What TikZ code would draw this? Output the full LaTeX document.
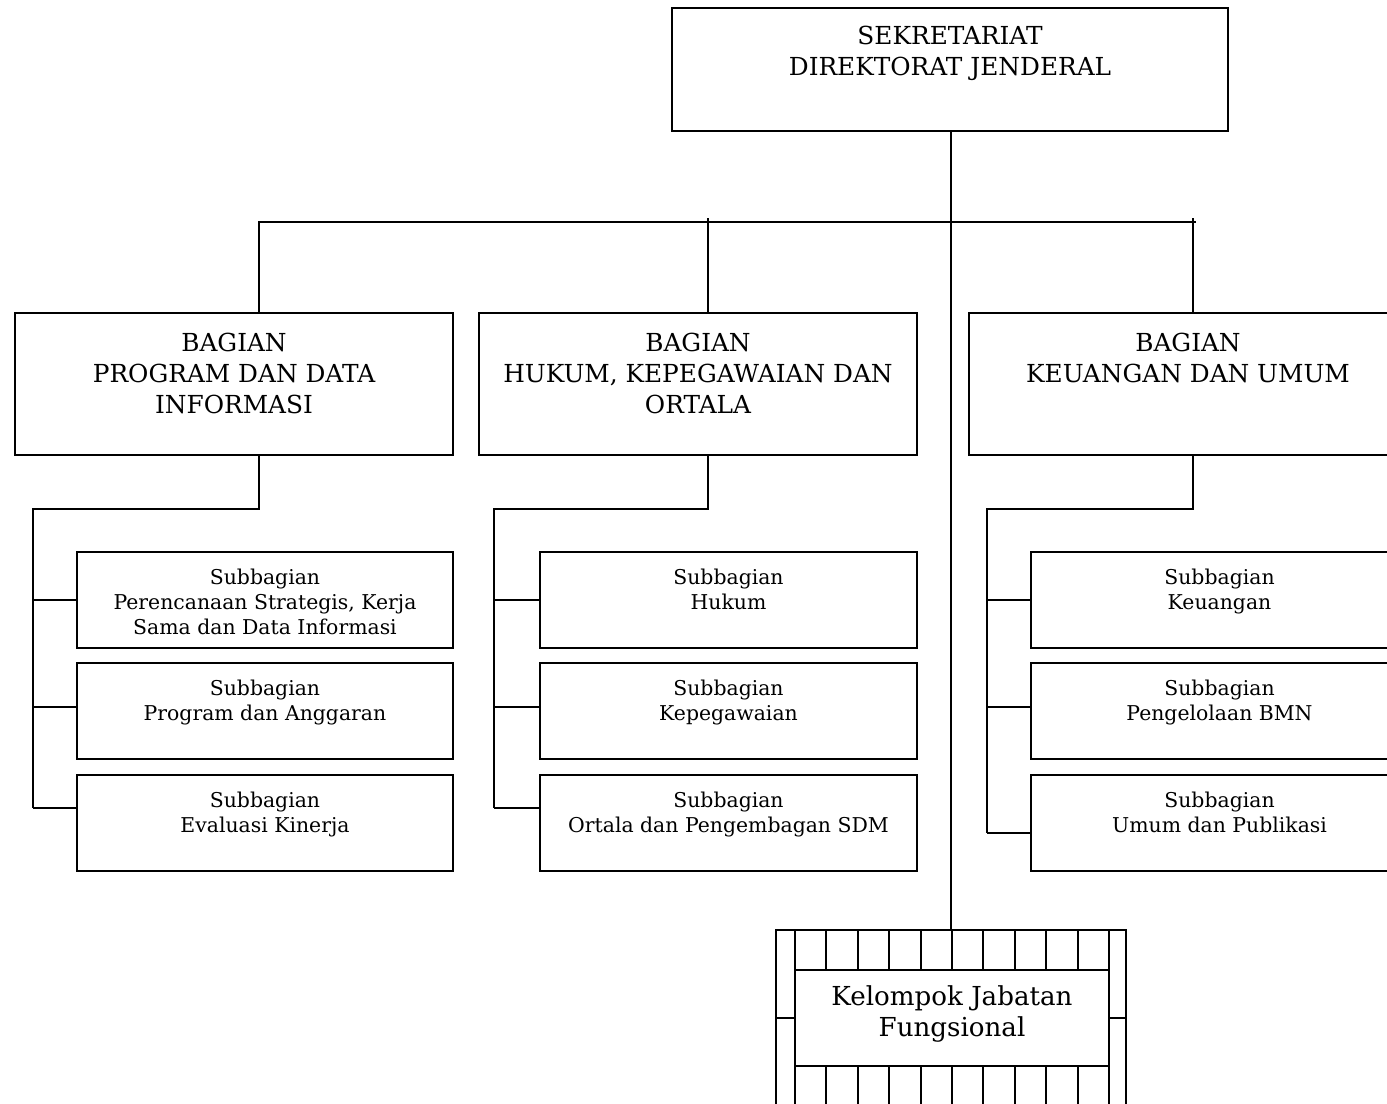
\documentclass[tikz,border=0pt]{standalone}
\usepackage{fontspec}
\setmainfont{DejaVu Serif}
\usetikzlibrary{calc}
% one drawing unit of the chart
\newdimen\px \px=0.75pt
% box content: fixed-size parbox, text hanging from the top
\newcommand{\boxtext}[4]{\parbox[c][#2\px][t]{#1\px}{\vspace*{#3\px}\centering #4\par}}
\newcommand{\bigfont}{\fontsize{18.6pt}{23.25pt}\selectfont}
\newcommand{\groupfont}{\fontsize{19.6pt}{23.25pt}\selectfont}
\newcommand{\smallfont}{\fontsize{15.3pt}{18.75pt}\selectfont}
\tikzset{
  unit/.style={draw, line width=1.5pt, inner sep=0pt, outer sep=0pt},
  link/.style={line width=1.5pt},
}
\begin{document}
\begin{tikzpicture}[x=0.75pt, y=-0.75pt]
\useasboundingbox (0,0) rectangle (1387,1103);
\clip (0,0) rectangle (1387,1103);

% head office
\node[unit] (sek) at (950,69.5) {\boxtext{556}{123}{18}{\bigfont SEKRETARIAT\\DIREKTORAT JENDERAL}};

% divisions
\node[unit] (bag1) at (234,384) {\boxtext{438}{142}{20}{\bigfont BAGIAN\\PROGRAM DAN DATA\\INFORMASI}};
\node[unit] (bag2) at (698,384) {\boxtext{438}{142}{20}{\bigfont BAGIAN\\HUKUM, KEPEGAWAIAN DAN\\ORTALA}};
\node[unit] (bag3) at (1188,384) {\boxtext{438}{142}{20}{\bigfont BAGIAN\\KEUANGAN DAN UMUM}};

% sub-divisions
\node[unit] (s11) at (265,600) {\boxtext{376}{96}{17}{\smallfont Subbagian\\Perencanaan Strategis, Kerja\\Sama dan Data Informasi}};
\node[unit] (s12) at (265,711) {\boxtext{376}{96}{17}{\smallfont Subbagian\\Program dan Anggaran}};
\node[unit] (s13) at (265,823) {\boxtext{376}{96}{17}{\smallfont Subbagian\\Evaluasi Kinerja}};

\node[unit] (s21) at (728.5,600) {\boxtext{377}{96}{17}{\smallfont Subbagian\\Hukum}};
\node[unit] (s22) at (728.5,711) {\boxtext{377}{96}{17}{\smallfont Subbagian\\Kepegawaian}};
\node[unit] (s23) at (728.5,823) {\boxtext{377}{96}{17}{\smallfont Subbagian\\Ortala dan Pengembagan SDM}};

\node[unit] (s31) at (1219.5,600) {\boxtext{377}{96}{17}{\smallfont Subbagian\\Keuangan}};
\node[unit] (s32) at (1219.5,711) {\boxtext{377}{96}{17}{\smallfont Subbagian\\Pengelolaan BMN}};
\node[unit] (s33) at (1219.5,823) {\boxtext{377}{96}{17}{\smallfont Subbagian\\Umum dan Publikasi}};

% functional group: framed box with a hatched border band
\node[unit, minimum width=350\px, minimum height=176\px] (kout) at (951,1018) {};
\node[unit] (kin) at (952,1018) {\boxtext{314}{96}{16}{\groupfont Kelompok Jabatan\\Fungsional}};
\foreach \i in {0,...,10} {
  \path ($(kin.north west)!\i/10!(kin.north east)$) coordinate (gt\i)
        ($(kin.south west)!\i/10!(kin.south east)$) coordinate (gb\i);
  \draw[link] (gt\i) -- (gt\i |- kout.north);
  \draw[link] (gb\i) -- (gb\i |- kout.south);
}
\draw[link] (kin.west) -- (kin.west -| kout.west);
\draw[link] (kin.east) -- (kin.east -| kout.east);

% main trunk and distribution bar
\draw[link] (kout.north |- sek.south) -- (kout.north);
\coordinate (j1) at (259,221);
\coordinate (j2) at (708,218);
\coordinate (j3) at (1193,218);
\coordinate (barL) at (259,222);
\coordinate (barR) at (1196,222);
\draw[link] (barL) -- (barR);
\draw[link] (j1) -- (j1 |- bag1.north);
\draw[link] (j2) -- (j2 |- bag2.north);
\draw[link] (j3) -- (j3 |- bag3.north);

% division to sub-division connectors
\coordinate (e1) at (33,509);
\coordinate (e2) at (494,509);
\coordinate (e3) at (987,509);
\draw[link] (j1 |- bag1.south) -- (j1 |- e1) -- (e1) -- (33,808);
\draw[link] (j2 |- bag2.south) -- (j2 |- e2) -- (e2) -- (494,808);
\draw[link] (j3 |- bag3.south) -- (j3 |- e3) -- (e3) -- (987,833);

\coordinate (t11) at (33,600);  \coordinate (t12) at (33,707);  \coordinate (t13) at (33,808);
\coordinate (t21) at (494,600); \coordinate (t22) at (494,707); \coordinate (t23) at (494,808);
\coordinate (t31) at (987,600); \coordinate (t32) at (987,707); \coordinate (t33) at (987,833);
\foreach \c/\s in {1/1,1/2,1/3,2/1,2/2,2/3,3/1,3/2,3/3} {
  \draw[link] (t\c\s) -- (t\c\s -| s\c\s.west);
}
\end{tikzpicture}
\end{document}
